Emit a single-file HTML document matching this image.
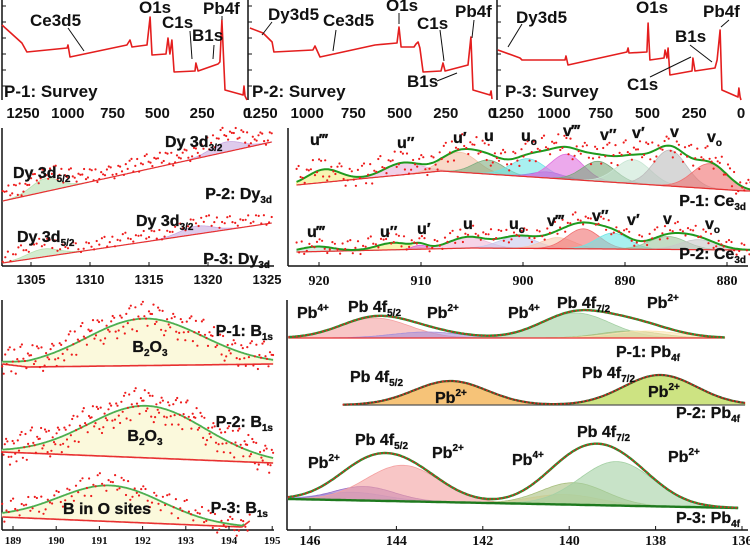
<!DOCTYPE html>
<html><head><meta charset="utf-8">
<style>
html,body{margin:0;padding:0;background:#fff;}
svg{display:block;}
text{font-family:"Liberation Sans",Arial,sans-serif;font-weight:bold;fill:#111;}
.sv{font-size:17px;}
.tk{font-size:15px;}
.lb{font-size:16px;stroke:#111;stroke-width:0.3px;}
.ser{font-family:"Liberation Serif","DejaVu Serif",serif;}
</style></head>
<body>
<svg id="chart" width="750" height="548" viewBox="0 0 750 548" xmlns="http://www.w3.org/2000/svg">
<g id="frames" stroke="#111" stroke-width="1.5" fill="none">
  <line x1="2" y1="0" x2="2" y2="100"/>
  <line x1="248" y1="0" x2="248" y2="100"/>
  <line x1="497" y1="0" x2="497" y2="100"/>
  <line x1="2" y1="128" x2="2" y2="266"/>
  <line x1="2" y1="266" x2="274" y2="266"/>
  <line x1="288" y1="128" x2="288" y2="266"/>
  <line x1="288" y1="266" x2="748" y2="266"/>
  <line x1="2" y1="300" x2="2" y2="530"/>
  <line x1="2" y1="530" x2="274" y2="530"/>
  <line x1="287" y1="300" x2="287" y2="530"/>
  <line x1="287" y1="530" x2="748" y2="530"/>
</g>
<g id="plots"></g>
<g id="labels">
  <text class="sv" x="30" y="26">Ce3d5</text>
  <text class="sv" x="139" y="13">O1s</text>
  <text class="sv" x="162" y="28">C1s</text>
  <text class="sv" x="192" y="41">B1s</text>
  <text class="sv" x="203" y="14">Pb4f</text>
  <text class="sv" x="4" y="97">P-1: Survey</text>
  <text class="sv" x="268" y="20">Dy3d5</text>
  <text class="sv" x="323" y="26">Ce3d5</text>
  <text class="sv" x="386" y="11">O1s</text>
  <text class="sv" x="417" y="29">C1s</text>
  <text class="sv" x="455" y="17">Pb4f</text>
  <text class="sv" x="407" y="87">B1s</text>
  <text class="sv" x="252" y="97">P-2: Survey</text>
  <text class="sv" x="516" y="23">Dy3d5</text>
  <text class="sv" x="636" y="13">O1s</text>
  <text class="sv" x="703" y="17">Pb4f</text>
  <text class="sv" x="675" y="42">B1s</text>
  <text class="sv" x="627" y="90">C1s</text>
  <text class="sv" x="505" y="97">P-3: Survey</text>
  <g stroke="#111" stroke-width="1">
    <line x1="68" y1="28" x2="84" y2="51"/><line x1="190" y1="31" x2="192" y2="59"/><line x1="214" y1="45" x2="213" y2="59"/><line x1="222" y1="16" x2="222" y2="20"/>
    <line x1="272" y1="22" x2="262" y2="35"/><line x1="336" y1="30" x2="333" y2="51"/><line x1="399" y1="13" x2="399" y2="24"/><line x1="440" y1="30" x2="444" y2="61"/><line x1="474" y1="20" x2="472" y2="38"/><line x1="437" y1="81" x2="457" y2="73"/>
    <line x1="522" y1="24" x2="508" y2="47"/><line x1="729" y1="20" x2="721" y2="27"/><line x1="690" y1="45" x2="712" y2="62"/><line x1="650" y1="77" x2="691" y2="57"/>
  </g>
  <text class="lb" font-size="17" x="13" y="178">Dy 3d<tspan font-size="10" dy="4">5/2</tspan></text>
  <text class="lb" font-size="17" x="165" y="147">Dy 3d<tspan font-size="10" dy="4">3/2</tspan></text>
  <text class="lb" font-size="17" x="272" y="199" text-anchor="end">P-2: Dy<tspan font-size="10" dy="4">3d</tspan></text>
  <text class="lb" font-size="17" x="17" y="242">Dy 3d<tspan font-size="10" dy="4">5/2</tspan></text>
  <text class="lb" font-size="17" x="136" y="226">Dy 3d<tspan font-size="10" dy="4">3/2</tspan></text>
  <text class="lb" font-size="17" x="270" y="264" text-anchor="end">P-3: Dy<tspan font-size="10" dy="4">3d</tspan></text>
  <g>
  <text class="lb" x="310" y="145">u‴</text><text class="lb" x="397" y="148">u″</text><text class="lb" x="453" y="143">u′</text><text class="lb" x="484" y="141">u</text><text class="lb" x="521" y="141">u<tspan font-size="10" dy="4">o</tspan></text>
  <text class="lb" x="563" y="136">v‴</text><text class="lb" x="600" y="140">v″</text><text class="lb" x="632" y="138">v′</text><text class="lb" x="670" y="137">v</text><text class="lb" x="707" y="142">v<tspan font-size="10" dy="4">o</tspan></text>
  <text class="lb" x="307" y="237">u‴</text><text class="lb" x="380" y="237">u″</text><text class="lb" x="417" y="234">u′</text><text class="lb" x="463" y="229">u</text><text class="lb" x="509" y="229">u<tspan font-size="10" dy="4">o</tspan></text>
  <text class="lb" x="547" y="226">v‴</text><text class="lb" x="592" y="221">v″</text><text class="lb" x="627" y="225">v′</text><text class="lb" x="663" y="224">v</text><text class="lb" x="705" y="229">v<tspan font-size="10" dy="4">o</tspan></text>
  </g>
  <text class="lb" font-size="17" x="746" y="206" text-anchor="end">P-1: Ce<tspan font-size="10" dy="4">3d</tspan></text>
  <text class="lb" font-size="17" x="746" y="259" text-anchor="end">P-2: Ce<tspan font-size="10" dy="4">3d</tspan></text>
  <text class="lb" font-size="17" x="150" y="352" text-anchor="middle">B<tspan font-size="10" dy="4">2</tspan><tspan dy="-4">O</tspan><tspan font-size="10" dy="4">3</tspan></text>
  <text class="lb" font-size="17" x="273" y="336" text-anchor="end">P-1: B<tspan font-size="10" dy="4">1s</tspan></text>
  <text class="lb" font-size="17" x="145" y="441" text-anchor="middle">B<tspan font-size="10" dy="4">2</tspan><tspan dy="-4">O</tspan><tspan font-size="10" dy="4">3</tspan></text>
  <text class="lb" font-size="17" x="273" y="427" text-anchor="end">P-2: B<tspan font-size="10" dy="4">1s</tspan></text>
  <text class="lb" font-size="17" x="107" y="514" text-anchor="middle">B in O sites</text>
  <text class="lb" font-size="17" x="268" y="513" text-anchor="end">P-3: B<tspan font-size="10" dy="4">1s</tspan></text>
  <g>
  <text class="lb" font-size="17" x="297" y="318">Pb<tspan font-size="10" dy="-7">4+</tspan></text>
  <text class="lb" font-size="17" x="348" y="312">Pb 4f<tspan font-size="10" dy="4">5/2</tspan></text>
  <text class="lb" font-size="17" x="427" y="318">Pb<tspan font-size="10" dy="-7">2+</tspan></text>
  <text class="lb" font-size="17" x="508" y="318">Pb<tspan font-size="10" dy="-7">4+</tspan></text>
  <text class="lb" font-size="17" x="557" y="308">Pb 4f<tspan font-size="10" dy="4">7/2</tspan></text>
  <text class="lb" font-size="17" x="647" y="308">Pb<tspan font-size="10" dy="-7">2+</tspan></text>
  <text class="lb" font-size="17" x="350" y="382">Pb 4f<tspan font-size="10" dy="4">5/2</tspan></text>
  <text class="lb" font-size="17" x="435" y="403">Pb<tspan font-size="10" dy="-7">2+</tspan></text>
  <text class="lb" font-size="17" x="582" y="378">Pb 4f<tspan font-size="10" dy="4">7/2</tspan></text>
  <text class="lb" font-size="17" x="648" y="397">Pb<tspan font-size="10" dy="-7">2+</tspan></text>
  <text class="lb" font-size="17" x="308" y="468">Pb<tspan font-size="10" dy="-7">2+</tspan></text>
  <text class="lb" font-size="17" x="355" y="445">Pb 4f<tspan font-size="10" dy="4">5/2</tspan></text>
  <text class="lb" font-size="17" x="432" y="458">Pb<tspan font-size="10" dy="-7">2+</tspan></text>
  <text class="lb" font-size="17" x="512" y="465">Pb<tspan font-size="10" dy="-7">4+</tspan></text>
  <text class="lb" font-size="17" x="577" y="437">Pb 4f<tspan font-size="10" dy="4">7/2</tspan></text>
  <text class="lb" font-size="17" x="668" y="462">Pb<tspan font-size="10" dy="-7">2+</tspan></text>
  </g>
  <text class="lb" font-size="17" x="680" y="357" text-anchor="end">P-1: Pb<tspan font-size="10" dy="4">4f</tspan></text>
  <text class="lb" font-size="17" x="740" y="418" text-anchor="end">P-2: Pb<tspan font-size="10" dy="4">4f</tspan></text>
  <text class="lb" font-size="17" x="740" y="523" text-anchor="end">P-3: Pb<tspan font-size="10" dy="4">4f</tspan></text>
</g>
</svg>
<script>
// ---------- Survey data (binding energy eV, intensity a.u.) ----------
const s1BE=[1367,1256,1228,1004,999,988,670,653,642,558,541,530,452,441,430,419,407,290,285,273,162,151,140,128,123,22,17,11,0];
const s1I =[75,57,48,52,55,43,55,60,53,55,83,45,46,62,46,60,28,29,37,29,36,38,80,30,10,5,14,4,0];
const s2BE=[1310,1239,1190,1180,969,958,931,633,514,503,492,422,411,400,390,373,276,265,254,130,114,103,11,5,0];
const s2I =[72,67,58,48,50,54,43,55,57,73,53,53,56,58,52,28,29,37,29,35,63,10,5,9,1];
const s3BE=[1300,1225,1182,1171,941,936,925,610,604,599,503,497,487,412,406,396,390,380,262,257,246,139,128,112,102,16,11,5,0];
const s3I =[50,45,42,40,40,44,35,48,52,47,48,77,40,42,50,42,52,25,29,42,29,32,40,70,10,3,12,3,0];
const surveyTicks=[1250,1000,750,500,250,0];

// ---------- Dy 3d ----------
const dy2BgBE=[1302.6,1325.4], dy2BgI=[4,63];
const dy2C=[1306.2,1321.5], dy2H=[13,10], dy2S=[1.2,1.3];
const dy3BgBE=[1302.6,1325.4], dy3BgI=[3,43];
const dy3C=[1306.0,1319.0], dy3H=[8,8], dy3S=[1.3,1.4];
const dyTicks=[1305,1310,1315,1320,1325];

// ---------- Ce 3d ----------
const ce1BgBE=[922.2,908,878.2], ce1BgI=[15,29,9];
const ce1C=[919.5,911.8,906.2,903.4,899.5,897.6,895.7,892.6,889.2,885.6,881.7];
const ce1H=[13,12,20,14,18,6,25,20,24,36,25];
const ce1S=[1.6,1.8,1.7,1.5,1.7,1.5,1.6,1.6,1.7,1.6,1.7];
const ce2BgBE=[922.2,905,878.2], ce2BgI=[10,14,12];
const ce2C=[920.2,912.7,910.1,905.4,900.5,896.6,894.1,891.2,885.8,882.8];
const ce2H=[5,7,4,11,12,11,20,16,13,10];
const ce2S=[1.6,1.6,0.7,1.8,1.8,1.6,1.6,1.6,1.8,1.8];
const ceTicks=[920,910,900,890,880];

// ---------- B 1s ----------
const b1BgBE=[188.75,189.33,195.02], b1BgI=[6,3,6];
const b1C=[192.05], b1H=[47], b1S=[1.35];
const b2BgBE=[188.75,195.02], b2BgI=[18,7];
const b2C=[192.1], b2H=[52], b2S=[1.35];
const b3BgBE=[188.75,194.3,194.48], b3BgI=[13,3,9];
const b3C=[191.25], b3H=[36], b3S=[1.2];
const bTicks=[189,190,191,192,193,194,195];

// ---------- Pb 4f ----------
const pb1BgBE=[146.5,136.4], pb1BgI=[7,7];
const pb1C=[144.5,143.3,139.85,138.6,138.2], pb1H=[20,6,25,7,7], pb1S=[0.8,0.8,0.8,0.7,0.8];
const pb2BgBE=[145.24,135.93], pb2BgI=[5,5];
const pb2C=[142.75,137.9], pb2H=[24,30], pb2S=[0.85,0.85];
const pb3BgBE=[146.51,136.09], pb3BgI=[16,7];
const pb3C=[145.0,144.75,143.85,140.1,139.9,138.9], pb3H=[8,14,36,10,22,44], pb3S=[0.75,0.7,0.85,0.8,0.75,0.85];
const pbTicks=[146,144,142,140,138,136];

// fixed measured residual pattern for noisy data points
const resid=[3,-2,5,-4,1,6,-3,2,-5,4,0,-1,7,-6,2,3,-4,5,-2,1,-3,6,-1,4,-5,2,0,3,-2,5,-6,1,4,-3,2,-1,6,-4,0,3];

const NS='http://www.w3.org/2000/svg';
const plots=document.getElementById('plots');
function mk(tag,attrs,parent){const e=document.createElementNS(NS,tag);for(const k in attrs)e.setAttribute(k,attrs[k]);(parent||plots).appendChild(e);return e;}
function interp(xs,ys,x){
  const n=xs.length; const asc=xs[n-1]>xs[0];
  for(let i=0;i<n-1;i++){const a=xs[i],b=xs[i+1];const inside=asc?(x>=a&&x<=b):(x<=a&&x>=b);if(inside){return ys[i]+(ys[i+1]-ys[i])*(x-a)/(b-a);}}
  if(asc) return x<xs[0]?ys[0]:ys[n-1]; return x>xs[0]?ys[0]:ys[n-1];
}
function gau(x,c,h,s){return h*Math.exp(-0.5*((x-c)/s)*((x-c)/s));}

const dyX=be=>31+(be-1305)*11.8;
const ceX=be=>319+(920-be)*10.2;
const bX=be=>13+(be-189)*43.2;
const pbX=be=>310+(146-be)*43.2;

const survX0=[247,492,741], survK=[0.1792,0.1848,0.187], survLeft=[2,248,497];
const survBE=[s1BE,s2BE,s3BE], survI=[s1I,s2I,s3I];
for(let p=0;p<3;p++){
  const xf=be=>survX0[p]-be*survK[p];
  const yf=i=>100-i;
  let d='';
  survBE[p].forEach((be,i)=>{d+=(i?'L':'M')+xf(be).toFixed(1)+' '+yf(survI[p][i]).toFixed(1);});
  const path=mk('path',{d:d,fill:'none',stroke:'#e41e1e','stroke-width':1.6,'stroke-linejoin':'round'});
  
  
  for(let t=0;t<6;t++){
    const tm=mk('line',{x1:survLeft[p],x2:survLeft[p]+4,y1:6+t*16,y2:6+t*16,stroke:'#111','stroke-width':1});
    
    
  }
  surveyTicks.forEach(v=>{
    const t=mk('text',{x:xf(v),y:118,'text-anchor':'middle','class':'tk'});
    t.textContent=v;
    
    
  });
}

function drawSpec(o){
  const N=260, lo=o.lo, hi=o.hi;
  const bg=be=>interp(o.bgBE,o.bgI,be);
  const env=be=>{let s=bg(be);for(let j=0;j<o.C.length;j++)s+=gau(be,o.C[j],o.H[j],o.S[j]);return s;};
  const Y=v=>o.y0-v;
  const xs=[];for(let i=0;i<=N;i++)xs.push(lo+(hi-lo)*i/N);
  const g=mk('g',{});
  
  
  for(let j=0;j<o.C.length;j++){
    let d='';xs.forEach((be,i)=>{d+=(i?'L':'M')+o.xf(be).toFixed(1)+' '+Y(bg(be)+gau(be,o.C[j],o.H[j],o.S[j])).toFixed(1);});
    for(let i=N;i>=0;i--)d+='L'+o.xf(xs[i]).toFixed(1)+' '+Y(bg(xs[i])).toFixed(1);
    const c=mk('path',{d:d+'Z',fill:o.col[j],'fill-opacity':o.op||0.6,stroke:o.col[j],'stroke-width':0.8},g);
    
    
  }
  let bd='';xs.forEach((be,i)=>{bd+=(i?'L':'M')+o.xf(be).toFixed(1)+' '+Y(bg(be)).toFixed(1);});
  const bl=mk('path',{d:bd,fill:'none',stroke:o.bgCol||'#e83030','stroke-width':o.bgW||1.2},g);
  
  
  if(o.envCol){
    let d='';const ehi=o.envHi!==undefined?o.envHi:hi;
    xs.forEach((be,i)=>{const b=lo+(ehi-lo)*i/N;d+=(i?'L':'M')+o.xf(b).toFixed(1)+' '+Y(env(b)).toFixed(1);});
    const e=mk('path',{d:d,fill:'none',stroke:o.envCol,'stroke-width':o.envW||2},g);
    
    
    if(o.dotted){
      const e2=mk('path',{d:d,fill:'none',stroke:'#e82020','stroke-width':1.6,'stroke-dasharray':'1.6,2.2'},g);
      
      
    }
  }
  if(o.dotStep){
    const n=Math.floor(Math.abs(hi-lo)/o.dotStep);
    for(let k=0;k<=n;k++){
      const be=lo+(hi-lo)*k/n;
      const v=env(be)+(o.dotOff||0)+resid[(k*7+o.ph)%resid.length]*o.amp;
      const c=mk('circle',{cx:o.xf(be).toFixed(1),cy:Y(v).toFixed(1),r:1.1,fill:'#ee1c1c'},g);
      
      
    }
  }
}

drawSpec({name:'dy3d-p2',xf:dyX,y0:205,lo:1302.6,hi:1325.4,bgBE:dy2BgBE,bgI:dy2BgI,C:dy2C,H:dy2H,S:dy2S,col:['#b8e0b0','#c8a8e0'],dotStep:0.16,amp:1.3,dotOff:6,ph:0});
drawSpec({name:'dy3d-p3',xf:dyX,y0:266,lo:1302.6,hi:1325.4,bgBE:dy3BgBE,bgI:dy3BgI,C:dy3C,H:dy3H,S:dy3S,col:['#b8e0b0','#c8a8e0'],dotStep:0.22,amp:1.0,dotOff:5,ph:3});
drawSpec({name:'ce3d-p1',xf:ceX,y0:200,lo:922.2,hi:877.3,bgBE:ce1BgBE,bgI:ce1BgI,C:ce1C,H:ce1H,S:ce1S,
  col:['#f4ee80','#e8b0d8','#f4c0a4','#7fae80','#70e6e6','#9080e0','#e070e0','#7aa87c','#c8e6d4','#bdbdbd','#f07070'],envCol:'#1e9a1e',envW:2,dotStep:0.2,amp:2.0,dotOff:1,ph:5});
drawSpec({name:'ce3d-p2',xf:ceX,y0:262,lo:922.2,hi:877.3,bgBE:ce2BgBE,bgI:ce2BgI,C:ce2C,H:ce2H,S:ce2S,
  col:['#bfe0d0','#f4ee80','#e060e0','#f0b8d8','#c8c8ec','#f8c8b0','#f07070','#70e6e6','#9cc49c','#c8c8c8'],envCol:'#1e9a1e',envW:2,dotStep:0.25,amp:1.3,dotOff:2,ph:9});
drawSpec({name:'b1s-p1',xf:bX,y0:370,lo:188.75,hi:195.02,bgBE:b1BgBE,bgI:b1BgI,C:b1C,H:b1H,S:b1S,col:['#fbf9dc'],op:1,envCol:'#4caf50',envW:1.8,bgW:1.6,dotStep:0.035,amp:2.4,dotOff:0,ph:1});
drawSpec({name:'b1s-p2',xf:bX,y0:470,lo:188.75,hi:195.02,bgBE:b2BgBE,bgI:b2BgI,C:b2C,H:b2H,S:b2S,col:['#fbf9dc'],op:1,envCol:'#4caf50',envW:1.8,bgW:1.6,dotStep:0.03,amp:2.6,dotOff:0,ph:11});
drawSpec({name:'b1s-p3',xf:bX,y0:530,lo:188.75,hi:194.48,bgBE:b3BgBE,bgI:b3BgI,C:b3C,H:b3H,S:b3S,col:['#fbf9dc'],op:1,envCol:'#4caf50',envW:1.8,bgW:1.6,envHi:194.35,dotStep:0.05,amp:1.8,dotOff:0,ph:17});
drawSpec({name:'pb4f-p1',xf:pbX,y0:345,lo:146.5,hi:136.4,bgBE:pb1BgBE,bgI:pb1BgI,C:pb1C,H:pb1H,S:pb1S,col:['#f4a0a0','#a890d8','#a4d0a4','#a8bf7e','#fbe4b0'],envCol:'#2e8b2e',envW:2.4,dotted:true});
drawSpec({name:'pb4f-p2',xf:pbX,y0:410,lo:145.24,hi:135.93,bgBE:pb2BgBE,bgI:pb2BgI,C:pb2C,H:pb2H,S:pb2S,col:['#f5b860','#c4de6c'],op:0.85,bgCol:'#555',envCol:'#3a5a2a',envW:2.2,dotted:true});
drawSpec({name:'pb4f-p3',xf:pbX,y0:515,lo:146.51,hi:136.09,bgBE:pb3BgBE,bgI:pb3BgI,C:pb3C,H:pb3H,S:pb3S,col:['#a8b8f2','#9a70c8','#f4a0a0','#fbe0b0','#a8bf7e','#a4d0a4'],bgCol:'#1e7a1e',bgW:2.4,envCol:'#2e8b2e',envW:2.4,dotted:true});

function ticks(arr,xf,y,cls,size,weight,name,tickY){
  arr.forEach(v=>{
    const t=mk('text',{x:xf(v),y:y,'text-anchor':'middle','class':cls,'font-size':size,'font-weight':weight});
    t.textContent=v;
    
    
    const l=mk('line',{x1:xf(v),x2:xf(v),y1:tickY,y2:tickY-4,stroke:'#111','stroke-width':1});
    
    
  });
}
ticks(dyTicks,dyX,284,'',13,'bold','dy-x-tick-label',266);
ticks(ceTicks,ceX,285,'ser',14,'normal','ce-x-tick-label',266);
ticks(bTicks,bX,544,'ser',11,'normal','b-x-tick-label',530);
ticks(pbTicks,pbX,545,'ser',14,'bold','pb-x-tick-label',530);
</script>
</body></html>
